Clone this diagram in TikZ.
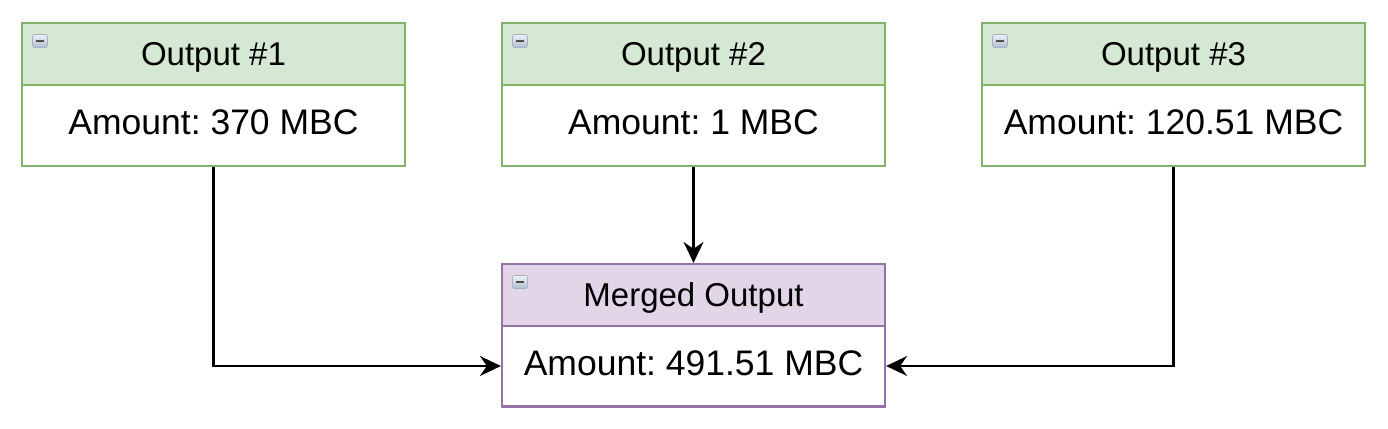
\documentclass[tikz,border=0pt]{standalone}
\usepackage{fontspec}
\setmainfont{Liberation Sans}
\frenchspacing
\usetikzlibrary{arrows.meta,positioning}
\definecolor{gfill}{HTML}{D5E8D4}
\definecolor{gline}{HTML}{82B366}
\definecolor{pfill}{HTML}{E1D5E7}
\definecolor{pline}{HTML}{9673A6}
\definecolor{iconA}{HTML}{EEF2F6}
\definecolor{iconB}{HTML}{A3B3C4}
\begin{document}
\begin{tikzpicture}[x=1pt,y=-1pt,
  hdr/.style={draw=#1line,fill=#1fill,line width=2.2pt,minimum width=383pt,minimum height=62pt,inner sep=0pt,text height=24pt,text depth=1pt,font=\fontsize{33}{38}\selectfont},
  bdy/.style={draw=#1line,fill=white,line width=2.2pt,minimum width=383pt,minimum height=81pt,inner sep=0pt,text height=26pt,text depth=8pt,font=\fontsize{35.5}{40}\selectfont},
  icon/.style={draw=iconB,rounded corners=2pt,top color=iconA,bottom color=iconB!85,minimum width=15pt,minimum height=13pt,inner sep=0pt,line width=0.7pt,
    path picture={\draw[line width=2.6pt,black!70] ([xshift=3.5pt]path picture bounding box.west) -- ([xshift=-3.5pt]path picture bounding box.east);}},
  conn/.style={line width=2.2pt,-{Stealth[length=21pt,width=20pt,inset=7pt]}}]
\useasboundingbox (0,0) rectangle (1388,428);
% Output boxes
\node[bdy=g] (b1) at (213.5,125.5) {Amount: 370 MBC};
\node[hdr=g] (h1) at (213.5,54) {Output \#1};
\node[bdy=g] (b2) at (693.5,125.5) {Amount: 1 MBC};
\node[hdr=g] (h2) at (693.5,54) {Output \#2};
\node[bdy=g] (b3) at (1173.5,125.5) {Amount: 120.51 MBC};
\node[hdr=g] (h3) at (1173.5,54) {Output \#3};
% Merged
\node[bdy=p] (bm) at (693.5,366) {Amount: 491.51 MBC};
\node[hdr=p] (hm) at (693.5,295) {Merged Output};
% icons
\node[icon] (i1) at (40,41) {};
\node[icon] (i2) at (520,41) {};
\node[icon] (i3) at (1000,41) {};
\node[icon] (im) at (520,282) {};
% connectors
\draw[conn] (b1.south) |- (bm.west);
\draw[conn] (b2.south) -- (hm.north);
\draw[conn] (b3.south) |- (bm.east);
\end{tikzpicture}
\end{document}
